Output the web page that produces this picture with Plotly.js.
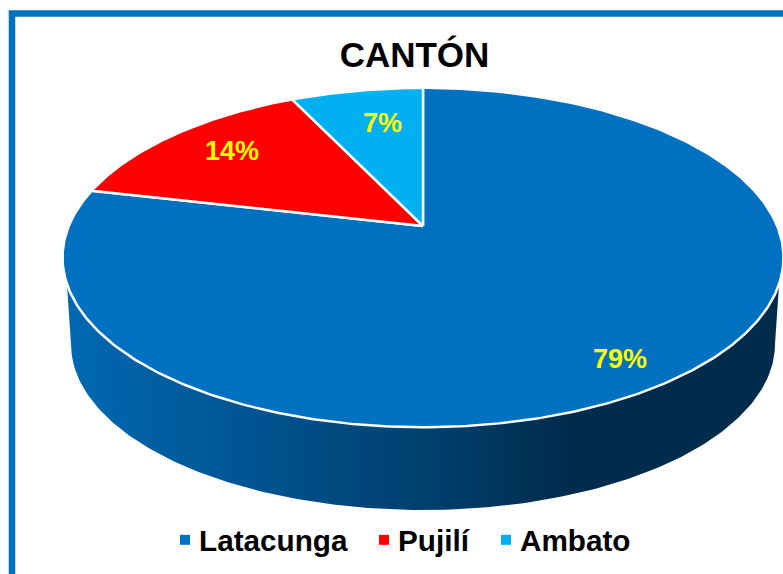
<!DOCTYPE html>
<html>
<head>
<meta charset="utf-8">
<script src="https://cdn.plot.ly/plotly-3.0.1.min.js"></script>
<style>html,body{margin:0;padding:0;background:#fff}#c{width:783px;height:574px}</style>
</head>
<body>
<div id="c"></div>
<script>
// Data
var categories = ["Latacunga", "Pujilí", "Ambato"];
var shares = [78.6, 14.3, 7.1];
var sliceColors = ["#0070c0", "#ff0000", "#00b0f0"];
var titleText = "CANTÓN";

// Label placement (pixels in the 783x574 page space)
var labelX = [620, 232, 382];
var labelY = [359, 151, 123];

// Projection of the tilted disc onto the page: pixel-scaled hidden axes
var apexX = 423, apexY = 226, scaleX = 354.2, scaleY = 163.8, depth = 0.1858;
function project(theta) {
  var sx = Math.sin(theta), cy = Math.cos(theta), w = 1 + depth * cy;
  return [apexX + scaleX * sx / w, apexY - scaleY * cy / w];
}
var total = shares.reduce(function (a, b) { return a + b; }, 0);
var traces = [];

// Side wall, built from the top and bottom rims
function wall() {
  var xs = [], ys = [], i, t;
  var cx = 423, topCy = 257.5, topRx = 360, topRy = 169.5, botCy = 344, botRx = 352, botRy = 166;
  var startT = Math.asin(24.5 / 169.5);
  for (i = 0; i <= 200; i++) {
    t = startT + (Math.PI - 2 * startT) * i / 200;
    xs.push(cx + topRx * Math.cos(t)); ys.push(topCy + topRy * Math.sin(t));
  }
  for (i = 200; i >= 0; i--) {
    t = Math.PI * i / 200;
    xs.push(cx + botRx * Math.cos(t)); ys.push(botCy + botRy * Math.sin(t));
  }
  xs.push(xs[0]); ys.push(ys[0]);
  return {x: xs, y: ys};
}
var w = wall();
traces.push({
  type: "scatter", mode: "lines", x: w.x, y: w.y, fill: "toself",
  line: {width: 0}, hoverinfo: "skip", showlegend: false,
  fillgradient: {
    type: "horizontal", start: 65, stop: 570,
    colorscale: [[0, "#0069b3"], [0.45, "#004f89"], [0.8, "#003a66"], [1, "#002b4b"]]
  }
});

// Slices on the top face, clockwise from twelve o'clock
var cum = 0;
categories.forEach(function (name, k) {
  var a0 = 2 * Math.PI * cum / total;
  cum += shares[k];
  var a1 = 2 * Math.PI * cum / total;
  var xs = [apexX], ys = [apexY], n = Math.max(8, Math.round(shares[k] * 5));
  for (var i = 0; i <= n; i++) {
    var p = project(a0 + (a1 - a0) * i / n);
    xs.push(p[0]); ys.push(p[1]);
  }
  xs.push(apexX); ys.push(apexY);
  traces.push({
    type: "scatter", mode: "lines", x: xs, y: ys, fill: "toself",
    fillcolor: sliceColors[k], line: {color: "#ffffff", width: 2.5},
    name: name, showlegend: false, hoverinfo: "name"
  });
});

// Legend entries
var legendIds = ["legend", "legend2", "legend3"];
categories.forEach(function (name, k) {
  traces.push({
    type: "scatter", mode: "markers", x: [null], y: [null], name: name,
    marker: {symbol: "square", size: 10, color: sliceColors[k]},
    legend: legendIds[k], showlegend: true
  });
});
function legendAt(px) {
  return {
    x: px / 783, y: 1 - 540 / 574, xanchor: "left", yanchor: "middle",
    orientation: "h", itemwidth: 30, bgcolor: "rgba(0,0,0,0)",
    font: {family: "Liberation Sans, Arial, sans-serif", size: 29.7, color: "#000000", weight: 700},
    itemclick: false, itemdoubleclick: false
  };
}

var annotations = categories.map(function (name, k) {
  return {
    xref: "x", yref: "y", x: labelX[k], y: labelY[k], showarrow: false,
    xanchor: "center", yanchor: "middle",
    text: Math.round(shares[k] / total * 100) + "%",
    font: {family: "Liberation Sans, Arial, sans-serif", size: 27, color: "#ffff00", weight: 700}
  };
});

var layout = {
  width: 783, height: 574,
  margin: {l: 0, r: 0, t: 0, b: 0},
  paper_bgcolor: "#ffffff", plot_bgcolor: "#ffffff",
  title: {
    text: titleText, x: 414.5 / 783, xanchor: "center", xref: "paper",
    y: 1 - 55 / 574, yanchor: "middle", yref: "paper",
    font: {family: "Liberation Sans, Arial, sans-serif", size: 35, color: "#000000", weight: 700}
  },
  xaxis: {range: [0, 783], visible: false, fixedrange: true},
  yaxis: {range: [574, 0], visible: false, fixedrange: true},
  legend: legendAt(159), legend2: legendAt(358), legend3: legendAt(480),
  annotations: annotations,
  shapes: [{
    type: "rect", xref: "x", yref: "y", x0: 12, y0: 13.5, x1: 820, y1: 620,
    line: {color: "#0070c0", width: 6.5}, fillcolor: "rgba(0,0,0,0)", layer: "below"
  }],
  showlegend: true
};
Plotly.newPlot("c", traces, layout, {displayModeBar: false}).then(function (gd) {
  // Bring the legend swatches closer to their text, as in the reference
  gd.querySelectorAll(".legendsymbols").forEach(function (g) {
    g.setAttribute("transform", "translate(6,0)");
  });
});
</script>
</body>
</html>
